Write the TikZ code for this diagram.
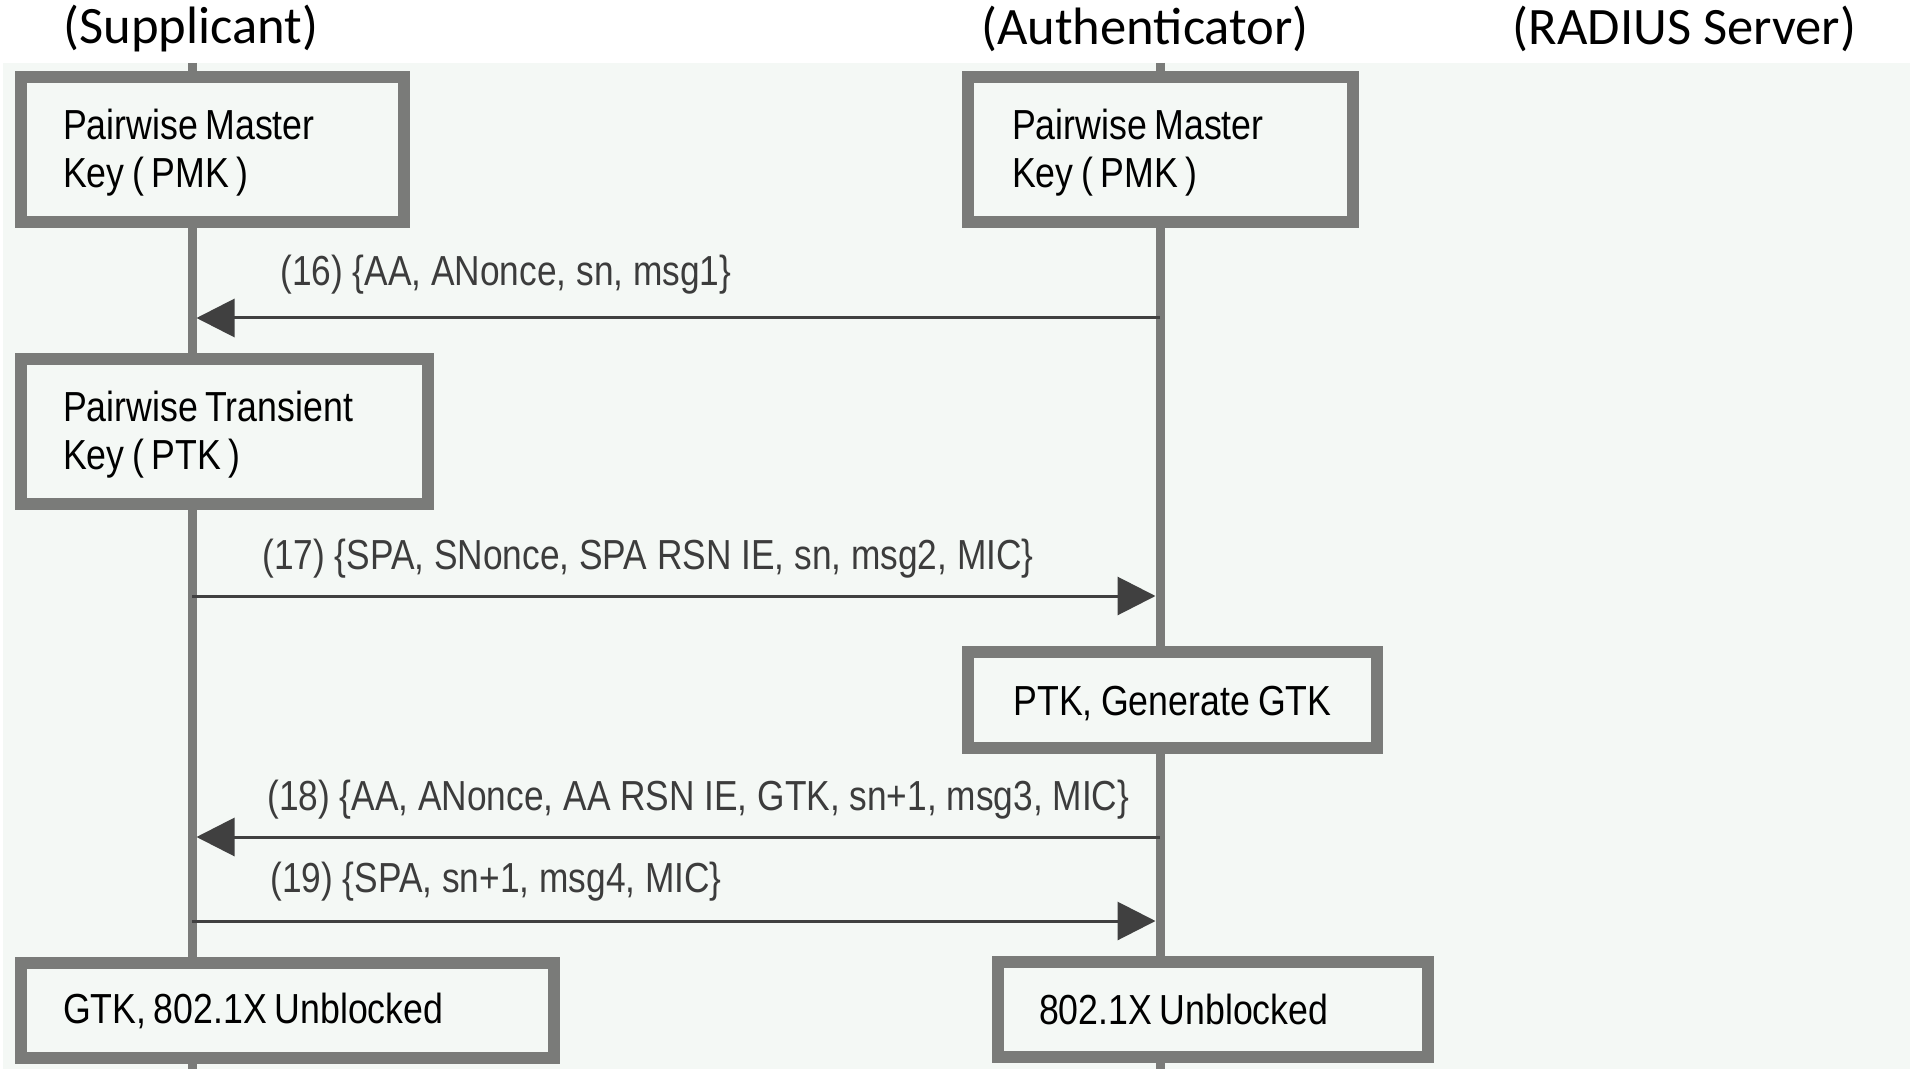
\documentclass[tikz,border=0pt]{standalone}
\usepackage{fontspec}
\setmainfont{Liberation Sans}[FakeStretch=0.84]
\newfontfamily\boxfont{Liberation Sans}[FakeStretch=0.85]
\newfontfamily\hdrfont{Carlito}
\usetikzlibrary{arrows.meta}
\definecolor{bgc}{HTML}{F4F8F5}
\definecolor{bordc}{HTML}{7A7B79}
\definecolor{arrc}{HTML}{404040}
\definecolor{lblc}{HTML}{3C3C3C}
\newcommand{\toppad}{\rule{0pt}{18.5pt}}
\begin{document}
\begin{tikzpicture}[x=0.5pt,y=-0.5pt,
  box/.style={draw=bordc, line width=6pt, fill=bgc, align=left, inner ysep=0pt,
    font=\boxfont\fontsize{21pt}{24pt}\selectfont, text=black,
    execute at begin node={\spaceskip=3.8pt plus 1pt minus 0.5pt}},
  life/.style={draw=bordc, line width=4.5pt},
  msg/.style={draw=arrc, line width=1.5pt, -{Triangle[length=19pt,width=19pt]}},
  lbl/.style={anchor=west, inner sep=0pt, font=\fontsize{21pt}{24pt}\selectfont, text=lblc},
  hdr/.style={inner sep=0pt, font=\hdrfont\fontsize{26.3pt}{30pt}\selectfont, text=black}]
\useasboundingbox (0,0) rectangle (1910,1069);
\fill[white] (0,0) rectangle (1910,1069);
\fill[bgc] (3,63) rectangle (1910,1069);

% headers
\node[hdr] (hS) at (191,29) {(Supplicant)};
\node[hdr] (hA) at (1145,29) {(Authenticator)};
\node[hdr] (hR) at (1684.5,29) {(RADIUS Server)};

% lifelines
\coordinate (sTop) at (192,63);
\coordinate (sBot) at (192,1069);
\coordinate (aTop) at (1160,63);
\coordinate (aBot) at (1160,1069);
\draw[life] (sTop) -- (sBot);
\draw[life] (aTop) -- (aBot);

% boxes
\node[box, inner xsep=21pt, text width=149.5pt, minimum height=72.5pt] (pmkS) at (212.5,149.5)
  {\toppad Pairwise Master\\Key ( PMK )};
\node[box, inner xsep=22pt, text width=148.5pt, minimum height=72.5pt] (pmkA) at (1160.5,149.5)
  {\toppad Pairwise Master\\Key ( PMK )};
\node[box, inner xsep=21pt, text width=161.5pt, minimum height=72.5pt] (ptk) at (224.5,431.5)
  {\toppad Pairwise Transient\\Key ( PTK )};
\node[box, align=center, inner xsep=10pt, text width=184.5pt, minimum height=48pt] (gen) at (1172.5,700)
  {\toppad PTK, Generate GTK};
\node[box, inner xsep=21pt, text width=224.5pt, minimum height=47.5pt] (gtk) at (287.5,1010.5)
  {GTK, 802.1X Unblocked};
\node[box, inner xsep=20.5pt, text width=174pt, minimum height=47.5pt] (unb) at (1213,1009.5)
  {802.1X Unblocked};

% message end points
\coordinate (a16) at (1160,318);   \coordinate (s16) at (196.5,318);
\coordinate (s17) at (192,596);    \coordinate (a17) at (1155.5,596);
\coordinate (a18) at (1160,837);   \coordinate (s18) at (196.5,837);
\coordinate (s19) at (192,921);    \coordinate (a19) at (1155.5,921);

\draw[msg] (a16) -- (s16);
\draw[msg] (s17) -- (a17);
\draw[msg] (a18) -- (s18);
\draw[msg] (s19) -- (a19);

% labels
\node[lbl] (l16) at (280,275) {(16) \{AA, ANonce, sn, msg1\}};
\node[lbl] (l17) at (262,559) {(17) \{SPA, SNonce, SPA RSN IE, sn, msg2, MIC\}};
\node[lbl] (l18) at (267,800) {(18) \{AA, ANonce, AA RSN IE, GTK, sn+1, msg3, MIC\}};
\node[lbl] (l19) at (270,882) {(19) \{SPA, sn+1, msg4, MIC\}};
\end{tikzpicture}
\end{document}
